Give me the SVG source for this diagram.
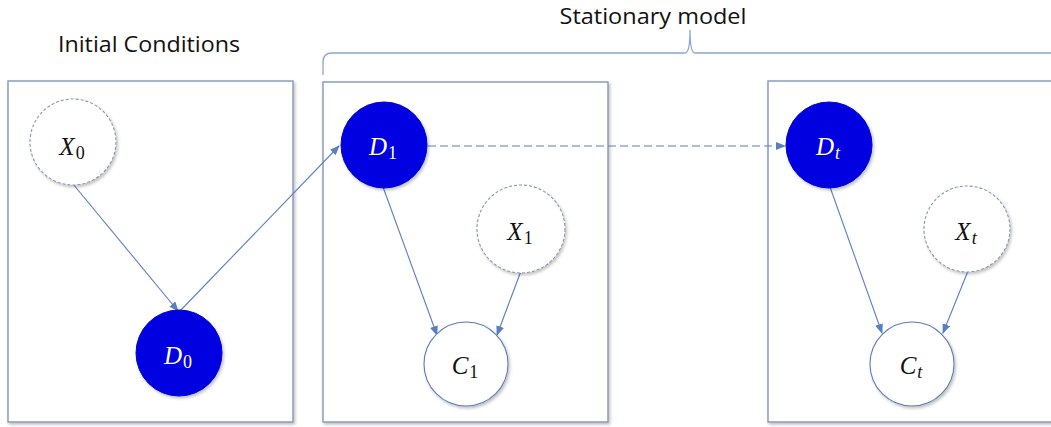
<svg xmlns="http://www.w3.org/2000/svg" width="1051" height="427" viewBox="0 0 1051 427">
<style>
  .box{fill:#fff;stroke:#8296b8;stroke-width:1.4}
  .obs{fill:#0303e0;stroke:#0303d0;stroke-width:1}
  .lat{fill:#fff;stroke:#8a96ad;stroke-width:1.1;stroke-dasharray:3 2}
  .cls{fill:#fff;stroke:#5b7cb8;stroke-width:1.1}
  .edge{fill:none;stroke:#5a7fc0;stroke-width:1.1}
  .dash{stroke-dasharray:8 4}
  .title{font-family:"Open Sans","DejaVu Sans",sans-serif;font-size:21.5px;fill:#111}
  .lab{font-family:"Liberation Serif","DejaVu Serif",serif;font-size:25px;font-style:italic;fill:#111}
  .labw{fill:#fff}
  .sub{font-size:18px;font-style:normal}
  .subi{font-size:18px;font-style:italic}
</style>
<defs>
  <filter id="sh" x="-20%" y="-20%" width="140%" height="140%">
    <feDropShadow dx="1.5" dy="2" stdDeviation="1.5" flood-color="#000" flood-opacity="0.25"/>
  </filter>
  <marker id="ah" markerUnits="userSpaceOnUse" markerWidth="10" markerHeight="8" refX="9" refY="4" orient="auto">
    <path d="M0,0 L10,4 L0,8 z" fill="#5a7fc0"/>
  </marker>
</defs>

<g id="labels">
  <text class="title" x="149" y="52" text-anchor="middle" textLength="182" lengthAdjust="spacingAndGlyphs">Initial Conditions</text>
  <text class="title" x="653" y="24" text-anchor="middle" textLength="187" lengthAdjust="spacingAndGlyphs">Stationary model</text>
</g>

<g id="brace">
  <path d="M323,75 L323,62 Q323,53 332,53 L685,53 Q690,53 690,30 Q690,53 695,53 L1056,53" fill="none" stroke="#8aa6cf" stroke-width="1.3"/>
</g>

<g id="frames">
  <rect id="frame-initial" class="box" x="8" y="81" width="285" height="341" filter="url(#sh)"/>
  <rect id="frame-1" class="box" x="323" y="82" width="285" height="340" filter="url(#sh)"/>
  <rect id="frame-t" class="box" x="768" y="81" width="292" height="341" filter="url(#sh)"/>
</g>

<g id="connectors">
  <line class="edge" x1="73" y1="184" x2="178" y2="311" marker-end="url(#ah)"/>
  <line class="edge" x1="180" y1="311" x2="339" y2="146" marker-end="url(#ah)"/>
  <line class="edge" x1="383" y1="187" x2="437" y2="335" marker-end="url(#ah)"/>
  <line class="edge" x1="521" y1="271" x2="497" y2="335" marker-end="url(#ah)"/>
  <line class="edge dash" x1="428" y1="146" x2="785" y2="146" marker-end="url(#ah)"/>
  <line class="edge" x1="830" y1="187" x2="882" y2="333" marker-end="url(#ah)"/>
  <line class="edge" x1="968" y1="271" x2="943" y2="333" marker-end="url(#ah)"/>
</g>

<g id="node-X0">
  <circle class="lat" cx="73" cy="142" r="43" filter="url(#sh)"/>
  <text class="lab" x="72" y="155" text-anchor="middle">X<tspan class="sub" dx="1" dy="4">0</tspan></text>
</g>
<g id="node-D0">
  <circle class="obs" cx="179" cy="353" r="43" filter="url(#sh)"/>
  <text class="lab labw" x="178" y="364" text-anchor="middle">D<tspan class="sub" dx="1" dy="4">0</tspan></text>
</g>
<g id="node-D1">
  <circle class="obs" cx="384" cy="145" r="43" filter="url(#sh)"/>
  <text class="lab labw" x="383" y="155" text-anchor="middle">D<tspan class="sub" dx="1" dy="4">1</tspan></text>
</g>
<g id="node-X1">
  <circle class="lat" cx="521" cy="229" r="44" filter="url(#sh)"/>
  <text class="lab" x="520" y="240" text-anchor="middle">X<tspan class="sub" dx="1" dy="4">1</tspan></text>
</g>
<g id="node-C1">
  <circle class="cls" cx="466" cy="364" r="42" filter="url(#sh)"/>
  <text class="lab" x="465" y="374" text-anchor="middle">C<tspan class="sub" dx="1" dy="4">1</tspan></text>
</g>
<g id="node-Dt">
  <circle class="obs" cx="829" cy="145" r="43" filter="url(#sh)"/>
  <text class="lab labw" x="828" y="155" text-anchor="middle">D<tspan class="subi" dx="1" dy="4">t</tspan></text>
</g>
<g id="node-Xt">
  <circle class="lat" cx="967" cy="229" r="43" filter="url(#sh)"/>
  <text class="lab" x="966" y="240" text-anchor="middle">X<tspan class="subi" dx="1" dy="4">t</tspan></text>
</g>
<g id="node-Ct">
  <circle class="cls" cx="912" cy="364" r="42" filter="url(#sh)"/>
  <text class="lab" x="911" y="374" text-anchor="middle">C<tspan class="subi" dx="1" dy="4">t</tspan></text>
</g>
</svg>
